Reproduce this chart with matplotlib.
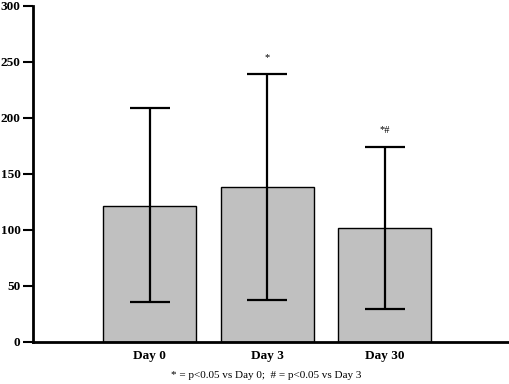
import matplotlib
matplotlib.use("Agg")
import matplotlib.pyplot as plt
import numpy as np

# data
days = ["Day 0", "Day 3", "Day 30"]
means = [121.5, 138.5, 102.0]
upper = [208.5, 239.5, 174.5]
lower = [35.5, 37.5, 29.5]
marks = ["", "*", "*#"]

plt.rcParams["font.family"] = ["Liberation Serif", "DejaVu Serif"]

fig = plt.figure(figsize=(5.1, 3.84), dpi=100)
ax = fig.add_axes([33/510, 1 - 342/384, 475/510, 336/384])

x = np.arange(len(days))
err = [np.array(means) - np.array(lower), np.array(upper) - np.array(means)]
ax.bar(x, means, width=0.79, color="#c0c0c0", edgecolor="black", linewidth=1.0, zorder=2)
ax.errorbar(x, means, yerr=err, fmt="none", ecolor="black", elinewidth=1.6,
            capsize=14.5, capthick=1.6, zorder=3)

for xi, up, m in zip(x, upper, marks):
    ax.text(xi, up + 10, m, ha="center", va="bottom", fontsize=7.5)

ax.set_xlim(-0.991, 3.047)
ax.set_ylim(0, 300)
ax.set_yticks(range(0, 301, 50))
ax.set_xticks(x)
ax.set_xticklabels(days, fontweight="bold", fontsize=9.5)
for lab in ax.get_yticklabels():
    lab.set_fontweight("bold")
    lab.set_fontsize(9.5)
ax.tick_params(axis="y", length=7, width=1.5, pad=2)
ax.tick_params(axis="x", length=0, pad=6)
ax.spines["top"].set_visible(False)
ax.spines["right"].set_visible(False)
ax.spines["left"].set_linewidth(2)
ax.spines["bottom"].set_linewidth(2)

fig.text(266.5/510, 1 - 376/384, "* = p<0.05 vs Day 0;  # = p<0.05 vs Day 3",
         ha="center", va="center", fontsize=8)

fig.savefig("out.png", dpi=100)
